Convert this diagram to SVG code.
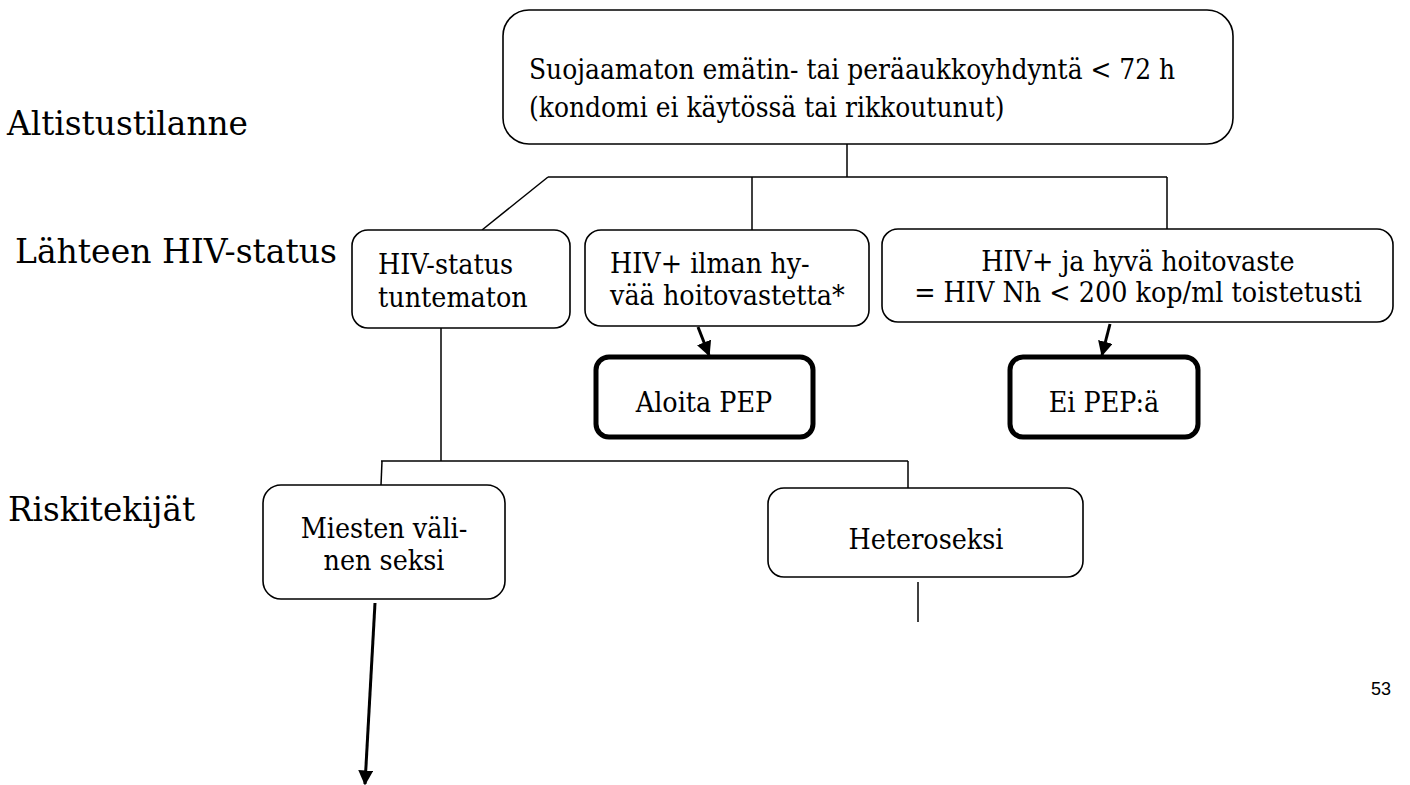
<svg xmlns="http://www.w3.org/2000/svg" width="1410" height="785" viewBox="0 0 1410 785">
<style>
  .bg { fill: #ffffff; }
  .box { fill: #ffffff; stroke: #000000; stroke-width: 1.6; }
  .bold { fill: #ffffff; stroke: #000000; stroke-width: 5; }
  .t { font-family: "DejaVu Serif", "Liberation Serif", serif; font-size: 25px; fill: #000000; }
  .lbl { font-family: "DejaVu Serif", "Liberation Serif", serif; font-size: 34px; fill: #000000; }
  .num { font-family: "Liberation Sans", Arial, sans-serif; font-size: 18px; fill: #000000; }
  .ln { stroke: #000000; stroke-width: 1.5; fill: none; }
  .arr { stroke: #000000; stroke-width: 3; fill: none; marker-end: url(#ah); }
</style>
<defs>
  <marker id="ah" viewBox="0 0 10 10" refX="9" refY="5" markerWidth="5" markerHeight="5" orient="auto" markerUnits="strokeWidth">
    <path d="M0,0 L10,5 L0,10 Z" fill="#000000"/>
  </marker>
</defs>
<rect class="bg" x="0" y="0" width="1410" height="785"/>

<g id="labels">
  <text class="lbl" x="7" y="135" textLength="241" lengthAdjust="spacingAndGlyphs">Altistustilanne</text>
  <text class="lbl" x="15" y="263" textLength="322" lengthAdjust="spacingAndGlyphs">Lähteen HIV-status</text>
  <text class="lbl" x="8" y="521" textLength="187" lengthAdjust="spacingAndGlyphs">Riskitekijät</text>
  <text class="num" x="1371" y="695">53</text>
</g>

<g id="connectors">
  <line class="ln" x1="847" y1="144" x2="847" y2="177"/>
  <line class="ln" x1="548" y1="177" x2="1167" y2="177"/>
  <line class="ln" x1="548" y1="177" x2="482" y2="230"/>
  <line class="ln" x1="752" y1="177" x2="752" y2="230"/>
  <line class="ln" x1="1167" y1="177" x2="1167" y2="229"/>
  <line class="ln" x1="441" y1="328" x2="441" y2="461"/>
  <line class="ln" x1="381" y1="461" x2="908" y2="461"/>
  <line class="ln" x1="382" y1="461" x2="381" y2="485"/>
  <line class="ln" x1="908" y1="461" x2="908" y2="488"/>
  <line class="ln" x1="918" y1="582" x2="918" y2="622"/>
  <line class="arr" x1="698" y1="327" x2="709" y2="355"/>
  <line class="arr" x1="1110" y1="324" x2="1102" y2="355"/>
  <line class="arr" x1="375" y1="603" x2="365" y2="784"/>
</g>

<g id="n-top">
  <rect class="box" x="503" y="10" width="730" height="134" rx="26"/>
  <text class="t" transform="translate(529,79) scale(1.0,1.1)">Suojaamaton emätin- tai peräaukkoyhdyntä &lt; 72 h</text>
  <text class="t" transform="translate(529,117) scale(1.0,1.1)">(kondomi ei käytössä tai rikkoutunut)</text>
</g>

<g id="n-unknown">
  <rect class="box" x="352" y="230" width="218" height="98" rx="16"/>
  <text class="t" transform="translate(378,274) scale(1.02,1.1)">HIV-status</text>
  <text class="t" transform="translate(378,307) scale(1.02,1.1)">tuntematon</text>
</g>

<g id="n-noresp">
  <rect class="box" x="585" y="230" width="284" height="96" rx="16"/>
  <text class="t" transform="translate(610,273) scale(1.02,1.1)">HIV+ ilman hy-</text>
  <text class="t" transform="translate(610,305) scale(1.02,1.1)">vää hoitovastetta*</text>
</g>

<g id="n-goodresp">
  <rect class="box" x="882" y="229" width="511" height="93" rx="16"/>
  <text class="t" text-anchor="middle" transform="translate(1138,271) scale(1.02,1.08)">HIV+ ja hyvä hoitovaste</text>
  <text class="t" text-anchor="middle" transform="translate(1138,302) scale(1.02,1.08)">= HIV Nh &lt; 200 kop/ml toistetusti</text>
</g>

<g id="n-aloita">
  <rect class="bold" x="596" y="357" width="217" height="80" rx="13"/>
  <text class="t" text-anchor="middle" transform="translate(704,412) scale(1.02,1.1)">Aloita PEP</text>
</g>

<g id="n-eipep">
  <rect class="bold" x="1010" y="357" width="188" height="80" rx="13"/>
  <text class="t" text-anchor="middle" transform="translate(1104,412) scale(1.02,1.1)">Ei PEP:ä</text>
</g>

<g id="n-msm">
  <rect class="box" x="263" y="485" width="242" height="114" rx="18"/>
  <text class="t" text-anchor="middle" transform="translate(384,538) scale(1.02,1.1)">Miesten väli-</text>
  <text class="t" text-anchor="middle" transform="translate(384,570) scale(1.02,1.1)">nen seksi</text>
</g>

<g id="n-hetero">
  <rect class="box" x="768" y="488" width="315" height="89" rx="16"/>
  <text class="t" text-anchor="middle" transform="translate(926,549) scale(1.02,1.1)">Heteroseksi</text>
</g>
</svg>
